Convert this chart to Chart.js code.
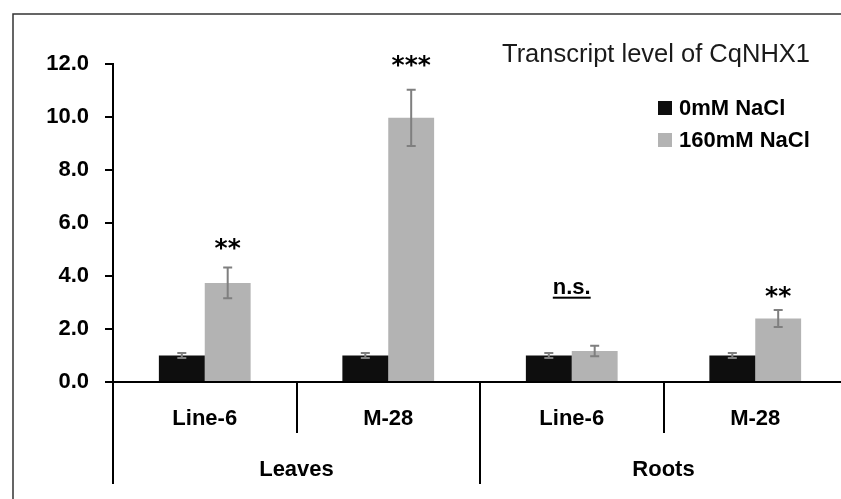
<!DOCTYPE html>
<html>
<head>
<meta charset="utf-8">
<script src="https://cdn.jsdelivr.net/npm/chart.js@4"></script>
<style>
  html, body { margin: 0; padding: 0; background: #fff; overflow: hidden; width: 841px; height: 499px; }
  #wrap { width: 860px; height: 499px; }
</style>
</head>
<body>
<div id="wrap"><canvas id="chart" width="860" height="499"></canvas></div>
<script>
const categories = ["Line-6", "M-28", "Line-6", "M-28"];
const groups = ["Leaves", "Roots"];
const seriesNames = ["0mM NaCl", "160mM NaCl"];
const control = [1.0, 1.0, 1.0, 1.0];
const controlErr = [0.09, 0.09, 0.09, 0.09];
const salt = [3.74, 9.97, 1.17, 2.4];
const saltErr = [0.58, 1.06, 0.2, 0.32];
const significance = ["**", "***", "n.s.", "**"];
const chartTitle = "Transcript level of CqNHX1";

const BAR_COLORS = ["#0e0e0e", "#b3b3b3"];
const ERR_COLOR = "#7f7f7f";
const BOLD = "bold 22px 'Liberation Sans', Arial, sans-serif";

const errors = [controlErr, saltErr];

// frame round the whole figure
const framePlugin = {
  id: "frame",
  beforeDraw(chart) {
    const ctx = chart.ctx;
    ctx.save();
    ctx.strokeStyle = "#333";
    ctx.lineWidth = 1.5;
    ctx.strokeRect(13, 14, 1000, 1000);
    ctx.restore();
  },
};

const errorBarPlugin = {
  id: "errorBars",
  afterDatasetsDraw(chart) {
    const ctx = chart.ctx;
    const y = chart.scales.y;
    ctx.save();
    ctx.strokeStyle = ERR_COLOR;
    ctx.lineWidth = 2;
    chart.data.datasets.forEach((ds, di) => {
      const meta = chart.getDatasetMeta(di);
      meta.data.forEach((bar, i) => {
        const v = ds.data[i];
        const e = errors[di][i];
        const top = y.getPixelForValue(v + e);
        const bot = y.getPixelForValue(v - e);
        ctx.beginPath();
        ctx.moveTo(bar.x, top);
        ctx.lineTo(bar.x, bot);
        ctx.moveTo(bar.x - 4.5, top);
        ctx.lineTo(bar.x + 4.5, top);
        ctx.moveTo(bar.x - 4.5, bot);
        ctx.lineTo(bar.x + 4.5, bot);
        ctx.stroke();
      });
    });
    ctx.restore();
  },
};

const decorPlugin = {
  id: "decor",
  afterDraw(chart) {
    const ctx = chart.ctx;
    const x = chart.scales.x;
    const y = chart.scales.y;
    const base = y.getPixelForValue(0);
    const n = categories.length;
    const edge = (i) => (i === 0 ? x.left : i === n ? x.right : (x.getPixelForValue(i - 1) + x.getPixelForValue(i)) / 2);

    ctx.save();
    ctx.strokeStyle = "#000";
    ctx.lineWidth = 2;
    // separators under the axis
    for (let i = 0; i <= n; i++) {
      const px = Math.round(edge(i));
      const long = i % 2 === 0;
      ctx.beginPath();
      ctx.moveTo(px, base);
      ctx.lineTo(px, base + (long ? 102 : 51));
      ctx.stroke();
    }

    ctx.fillStyle = "#000";
    ctx.font = BOLD;
    ctx.textAlign = "center";
    ctx.textBaseline = "middle";
    categories.forEach((c, i) => {
      ctx.fillText(c, x.getPixelForValue(i), base + 37);
    });
    groups.forEach((g, gi) => {
      const cx = (edge(gi * 2) + edge(gi * 2 + 2)) / 2;
      ctx.fillText(g, cx, base + 88);
    });

    // significance marks above the salt bars
    const saltMeta = chart.getDatasetMeta(1);
    const lift = [26, 31, 58, 20];
    significance.forEach((s, i) => {
      const errTop = y.getPixelForValue(salt[i] + saltErr[i]);
      const cy = errTop - lift[i];
      if (s === "n.s.") {
        const cx = x.getPixelForValue(i);
        ctx.font = BOLD;
        ctx.textBaseline = "alphabetic";
        ctx.fillText(s, cx, cy + 6);
        const w = ctx.measureText(s).width;
        ctx.fillRect(cx - w / 2, cy + 9, w, 2);
      } else {
        const cx = saltMeta.data[i].x;
        ctx.font = "bold 25px 'DejaVu Sans', sans-serif";
        ctx.textBaseline = "alphabetic";
        ctx.fillText(s, cx, cy + 14);
      }
    });

    // title
    ctx.font = "25.5px 'Liberation Sans', Arial, sans-serif";
    ctx.fillStyle = "#1a1a1a";
    ctx.textAlign = "left";
    ctx.textBaseline = "alphabetic";
    ctx.fillText(chartTitle, 502, 62);

    // legend
    ctx.font = BOLD;
    ctx.textBaseline = "middle";
    seriesNames.forEach((name, i) => {
      const cy = 108 + i * 32;
      ctx.fillStyle = BAR_COLORS[i];
      ctx.fillRect(658, cy - 7, 14, 14);
      ctx.fillStyle = "#000";
      ctx.fillText(name, 679, cy + 1);
    });
    ctx.restore();
  },
};

new Chart(document.getElementById("chart"), {
  type: "bar",
  data: {
    labels: categories,
    datasets: [
      { label: seriesNames[0], data: control, backgroundColor: BAR_COLORS[0] },
      { label: seriesNames[1], data: salt, backgroundColor: BAR_COLORS[1] },
    ],
  },
  options: {
    responsive: false,
    animation: false,
    events: [],
    categoryPercentage: 0.5,
    barPercentage: 1.0,
    layout: { padding: { top: 64, bottom: 117, left: 0, right: 13 } },
    plugins: {
      legend: { display: false },
      tooltip: { enabled: false },
    },
    scales: {
      x: {
        ticks: { display: false },
        grid: { display: false },
        border: { display: true, color: "#000", width: 2 },
        afterFit(scale) {
          scale.height = 0;
        },
      },
      y: {
        min: 0,
        max: 12,
        ticks: {
          stepSize: 2,
          padding: 16,
          color: "#000",
          font: { family: "'Liberation Sans', Arial, sans-serif", size: 22, weight: "bold" },
          callback: (v) => v.toFixed(1),
        },
        grid: { drawOnChartArea: false, drawTicks: true, tickLength: 8, color: "#000", lineWidth: 2 },
        border: { display: true, color: "#000", width: 2 },
        afterFit(scale) {
          scale.width = 113;
        },
      },
    },
  },
  plugins: [framePlugin, errorBarPlugin, decorPlugin],
});
</script>
</body>
</html>
